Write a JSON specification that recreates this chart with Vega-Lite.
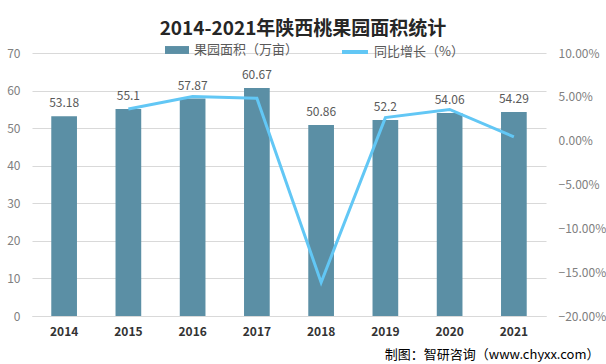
{
  "$schema": "https://vega.github.io/schema/vega-lite/v6.json",
  "width": 514,
  "height": 263,
  "autosize": {"type": "none"},
  "padding": {"left": 32, "top": 53, "right": 60, "bottom": 48},
  "background": "white",
  "title": {"text": "2014-2021年陕西桃果园面积统计", "fontSize": 19, "font": "Noto Sans CJK SC", "fontWeight": "bold", "color": "#262626", "anchor": "middle", "dx": 14, "offset": -2},
  "data": {"values": [
    {"year": "2014", "area": 53.18, "growth": null},
    {"year": "2015", "area": 55.1, "growth": 0.0361},
    {"year": "2016", "area": 57.87, "growth": 0.0503},
    {"year": "2017", "area": 60.67, "growth": 0.0484},
    {"year": "2018", "area": 50.86, "growth": -0.1617},
    {"year": "2019", "area": 52.2, "growth": 0.0263},
    {"year": "2020", "area": 54.06, "growth": 0.0356},
    {"year": "2021", "area": 54.29, "growth": 0.0043}
  ]},
  "config": {
    "view": {"stroke": null},
    "font": "Noto Sans CJK SC",
    "axis": {"labelFont": "Noto Sans CJK SC", "labelFontSize": 12, "labelColor": "#808080", "ticks": false, "domain": false, "gridColor": "#d9d9d9", "labelOverlap": false},
    "legend": {"labelFont": "Noto Sans CJK SC", "labelFontSize": 13, "labelColor": "#595959", "title": null}
  },
  "layer": [
    {
      "layer": [
        {
          "mark": {"type": "bar", "color": "#5B8FA5"},
          "encoding": {
            "x": {"field": "year", "type": "ordinal", "scale": {"paddingInner": 0.6, "paddingOuter": 0.3},
              "axis": {"labelAngle": 0, "labelFontWeight": "bold", "labelColor": "#333333", "labelPadding": 10, "domain": true, "domainColor": "#d9d9d9",
                "title": "制图：智研咨询（www.chyxx.com）", "titleFontSize": 13, "titleFontWeight": "normal", "titleColor": "#000000", "titleAlign": "right", "titleAnchor": "end", "titleX": 567, "titleY": 42, "titleBaseline": "alphabetic"}},
            "y": {"field": "area", "type": "quantitative", "scale": {"domain": [0, 70], "nice": false},
              "axis": {"values": [0, 10, 20, 30, 40, 50, 60, 70], "grid": true, "labelPadding": 12, "title": null}},
            "fill": {"datum": "果园面积（万亩）", "scale": {"range": ["#5B8FA5"]},
              "legend": {"orient": "none", "legendX": 132, "legendY": -16, "symbolType": "M-1,-0.33H1V0.33H-1Z", "symbolSize": 576, "labelOffset": 4}}
          }
        },
        {
          "mark": {"type": "text", "dy": -6, "fontSize": 12, "color": "#595959", "baseline": "bottom"},
          "encoding": {
            "x": {"field": "year", "type": "ordinal"},
            "y": {"field": "area", "type": "quantitative",
              "axis": {"values": [0, 10, 20, 30, 40, 50, 60, 70], "grid": true, "labelPadding": 12, "title": null}},
            "text": {"field": "area", "type": "quantitative"}
          }
        }
      ]
    },
    {
      "mark": {"type": "line", "strokeWidth": 3, "color": "#62C7F5"},
      "encoding": {
        "x": {"field": "year", "type": "ordinal"},
        "y": {"field": "growth", "type": "quantitative", "scale": {"domain": [-0.2, 0.1], "nice": false},
          "axis": {"orient": "right", "format": ".2%", "values": [-0.2, -0.15, -0.1, -0.05, 0, 0.05, 0.1], "grid": false, "labelPadding": 12, "title": null}},
        "stroke": {"datum": "同比增长（%）", "scale": {"range": ["#62C7F5"]},
          "legend": {"orient": "none", "legendX": 308, "legendY": -16, "symbolType": "stroke", "symbolSize": 676, "symbolStrokeWidth": 4, "labelOffset": 4}}
      }
    }
  ],
  "resolve": {"scale": {"y": "independent", "fill": "independent", "stroke": "independent"}}
}
